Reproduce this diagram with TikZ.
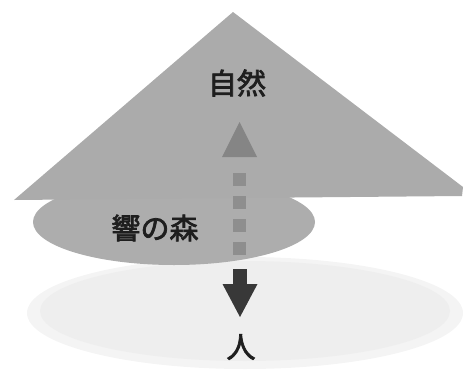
\documentclass[tikz,border=0pt]{standalone}
\usepackage{fontspec}
\newfontfamily\cjk[AutoFakeBold=2.5]{Noto Sans CJK JP}
\definecolor{trigray}{HTML}{ABABAB}
\definecolor{ellgray}{HTML}{ADADAD}
\definecolor{lightgrayA}{HTML}{F4F4F4}
\definecolor{lightgrayB}{HTML}{EEEEEE}
\definecolor{arrowgray}{HTML}{858585}
\definecolor{dashgray}{HTML}{8E8E8E}
\definecolor{darkarrow}{HTML}{383838}
\definecolor{txt}{HTML}{1E1E1E}
\tikzset{
  lbl/.style={font=\cjk\bfseries\fontsize{29}{29}\selectfont, text=txt, inner sep=0pt},
}
\begin{document}
\begin{tikzpicture}[x=1pt,y=-1pt]
\useasboundingbox (0,0) rectangle (463,372);
% light bottom ellipse (soft edge)
\fill[lightgrayA] (245,313) ellipse [x radius=218, y radius=56];
\fill[lightgrayB] (245,311) ellipse [x radius=205, y radius=50];
% forest ellipse
\fill[ellgray] (174,222) ellipse [x radius=141, y radius=43];
% nature triangle
\fill[trigray] (233,12) -- (463,187) -- (462,196) -- (14,200) -- cycle;
% nodes
\node[lbl] (nature) at (237,83) {自然};
\node[lbl] (forest) at (155,228) {響の森};
\node[lbl] (human) at (241,347) {人};
% up arrow (dashed shaft)
\coordinate (upTip) at (239.5,122);
\coordinate (upBase) at (239.5,157);
\coordinate (dashTop) at (239.5,173);
\coordinate (dashBot) at (239.5,259);
\draw[dashgray, line width=13pt, dash pattern=on 13pt off 10pt] (dashTop) -- (dashBot);
\fill[arrowgray] (upTip) -- ([xshift=17.5pt]upBase) -- ([xshift=-17.5pt]upBase) -- cycle;
% down arrow
\coordinate (dnTop) at (240,269);
\coordinate (dnBase) at (240,284);
\coordinate (dnTip) at (240,317);
\fill[darkarrow] ([xshift=-7pt]dnTop) rectangle ([xshift=7pt]dnBase);
\fill[darkarrow] ([xshift=-17.5pt]dnBase) -- ([xshift=17.5pt]dnBase) -- (dnTip) -- cycle;
\end{tikzpicture}
\end{document}
